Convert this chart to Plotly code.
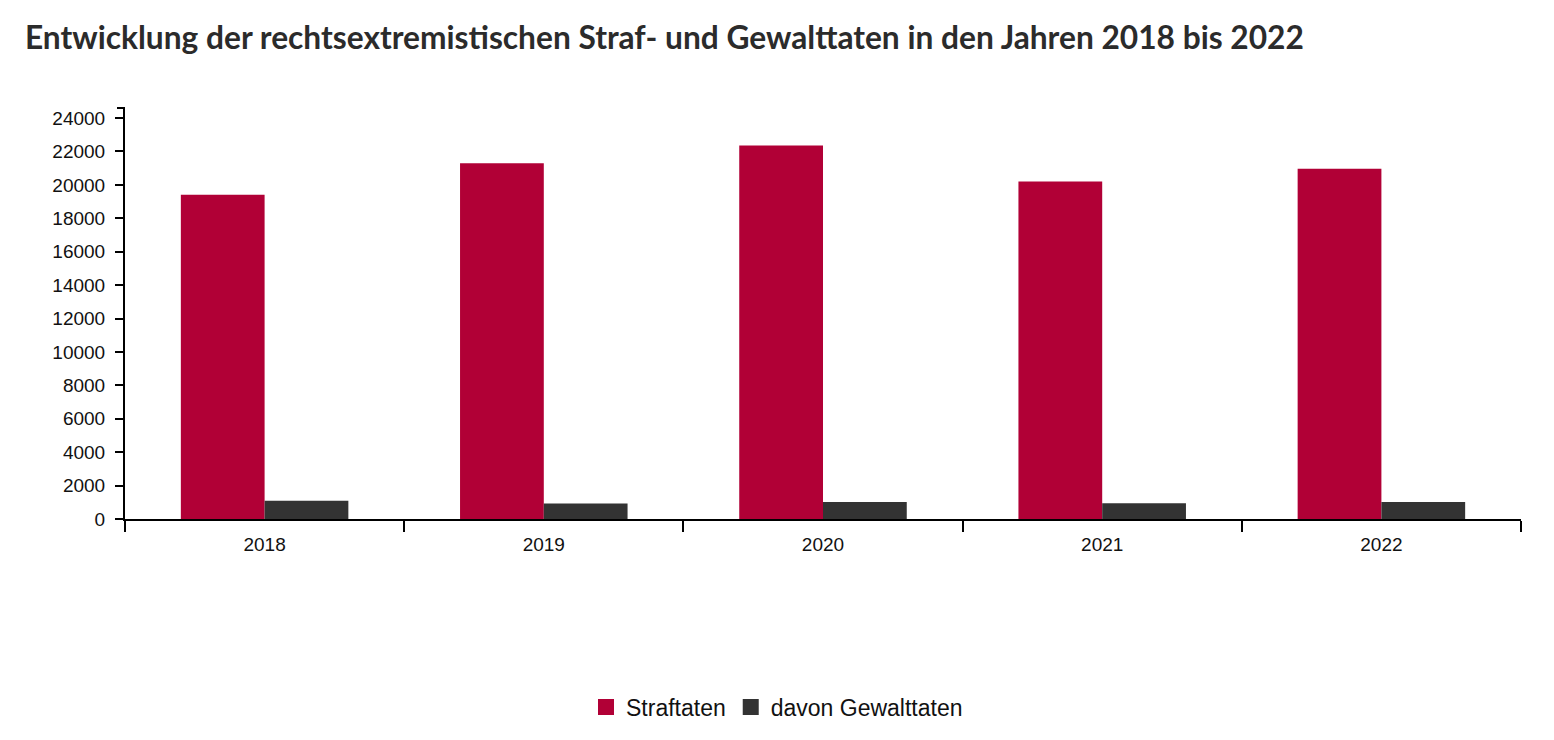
import plotly.graph_objects as go

years = ["2018", "2019", "2020", "2021", "2022"]
straftaten = [19409, 21290, 22357, 20201, 20967]
gewalttaten = [1088, 925, 1023, 945, 1016]
y_ticks = [0, 2000, 4000, 6000, 8000, 10000, 12000, 14000, 16000, 18000, 20000, 22000, 24000]
series_names = ["Straftaten", "davon Gewalttaten"]

RED = "#b10036"
DARK = "#333333"

fig = go.Figure()
fig.add_trace(go.Bar(x=years, y=straftaten, name=series_names[0], showlegend=False,
                     marker=dict(color=RED, line=dict(width=0))))
fig.add_trace(go.Bar(x=years, y=gewalttaten, name=series_names[1], showlegend=False,
                     marker=dict(color=DARK, line=dict(width=0))))
# legend entries with larger square swatches
for nm, col in zip(series_names, [RED, DARK]):
    fig.add_trace(go.Scatter(x=[None], y=[None], mode="markers", name=nm,
                             marker=dict(symbol="square", size=20, color=col)))

fig.update_layout(
    width=1554, height=740,
    margin=dict(l=125, r=33, t=108, b=221),
    paper_bgcolor="white", plot_bgcolor="white",
    barmode="group", bargap=0.4, bargroupgap=0,
    font=dict(family="Liberation Sans, Arial, sans-serif", size=19, color="#111"),
    title=dict(
        text="<b>Entwicklung der rechtsextremistischen Straf- und Gewalttaten in den Jahren 2018 bis 2022</b>",
        font=dict(family="Lato, sans-serif", size=31.7, color="#2b2b2b"),
        xref="container", x=25/1554, xanchor="left",
        yref="container", y=1-38/740, yanchor="middle",
    ),
    legend=dict(
        orientation="h", xref="container", x=0.5, xanchor="center",
        yref="container", y=1-707/740, yanchor="middle",
        font=dict(size=23, color="#111"), itemsizing="trace",
        traceorder="normal", itemwidth=30,
    ),
    showlegend=True,
)
fig.update_xaxes(
    type="category", showline=True, linecolor="black", linewidth=2,
    ticks="outside", tickson="boundaries", ticklen=11, tickwidth=2, tickcolor="black",
    showgrid=False, zeroline=False, tickfont=dict(size=19, color="#111"),
    ticklabelstandoff=7,
)
fig.update_yaxes(
    range=[0, 24600], tickvals=y_ticks, ticktext=[str(v) for v in y_ticks],
    showline=True, linecolor="black", linewidth=2,
    ticks="outside", ticklen=8, tickwidth=2, tickcolor="black",
    showgrid=False, zeroline=False, tickfont=dict(size=19, color="#111"),
    ticklabelstandoff=6,
)
# D3-style outer tick at top of y axis
fig.add_shape(type="line", xref="paper", yref="paper", x0=-8/1396, x1=0, y0=1, y1=1,
              line=dict(color="black", width=2))

fig.write_html("out.html")
